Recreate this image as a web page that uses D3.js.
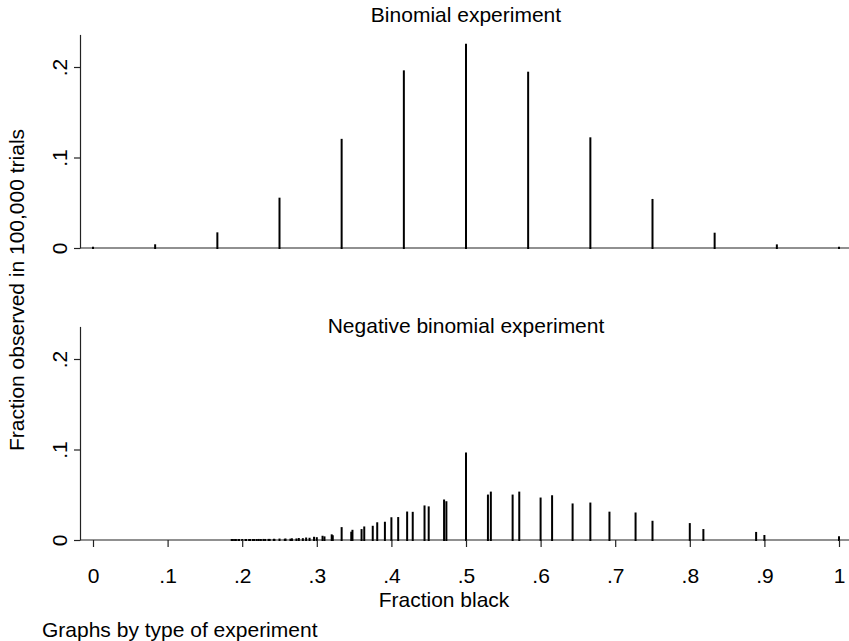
<!DOCTYPE html>
<html>
<head>
<meta charset="utf-8">
<script src="https://cdn.jsdelivr.net/npm/d3@7"></script>
<style>
  html, body { margin: 0; padding: 0; background: #fff; }
  svg { display: block; }
  text { font-family: "Liberation Sans", Arial, Helvetica, sans-serif; fill: #000; }
</style>
</head>
<body>
<svg id="chart" width="849" height="641"></svg>
<script>
// Binomial experiment: 12 draws, fraction black k/12
const binomFraction = [0, 0.0833, 0.1667, 0.25, 0.3333, 0.4167, 0.5, 0.5833, 0.6667, 0.75, 0.8333, 0.9167, 1];
const binomShare    = [0.00025, 0.0030, 0.0162, 0.0545, 0.1195, 0.1952, 0.2246, 0.1937, 0.1212, 0.0531, 0.0158, 0.0029, 0.00022];

// Negative binomial experiment: fraction black at stopping time
const negFraction = [
  0.1860, 0.1875, 0.1905, 0.1915, 0.1951, 0.1957, 0.2000, 0.2045, 0.2051, 0.2093,
  0.2105, 0.2143, 0.2162, 0.2195, 0.2222, 0.2250, 0.2286, 0.2308, 0.2353, 0.2368,
  0.2424, 0.2432, 0.2500, 0.2571, 0.2581, 0.2647, 0.2667, 0.2727, 0.2759, 0.2813,
  0.2857, 0.2903, 0.2963, 0.3000, 0.3077, 0.3103, 0.3200, 0.3214, 0.3333, 0.3462,
  0.3478, 0.3600, 0.3636, 0.3750, 0.3810, 0.3913, 0.4000, 0.4091, 0.4211, 0.4286,
  0.4444, 0.4500, 0.4706, 0.4737, 0.5000, 0.5294, 0.5333, 0.5625, 0.5714, 0.6000,
  0.6154, 0.6429, 0.6667, 0.6923, 0.7273, 0.7500, 0.8000, 0.8182, 0.8889, 0.9000,
  1.0000
];
const negShare = [
  0.00001, 0.00001, 0.00001, 0.00001, 0.00001, 0.00001, 0.00002, 0.00001, 0.00001, 0.00001,
  0.00002, 0.00001, 0.00003, 0.00002, 0.00005, 0.00003, 0.00008, 0.00004, 0.00012, 0.00007,
  0.00020, 0.00011, 0.00048, 0.00026, 0.00047, 0.00040, 0.00073, 0.00061, 0.00110, 0.00092,
  0.00165, 0.00136, 0.00245, 0.00200, 0.00358, 0.00290, 0.00516, 0.00414, 0.01313, 0.00806,
  0.01017, 0.01096, 0.01386, 0.01461, 0.01848, 0.01906, 0.02403, 0.02426, 0.03035, 0.03003,
  0.03709, 0.03604, 0.04364, 0.04173, 0.09547, 0.04910, 0.05237, 0.04910, 0.05237, 0.04582,
  0.04834, 0.03928, 0.04028, 0.03021, 0.02930, 0.02014, 0.01758, 0.01099, 0.00781, 0.00440,
  0.00293
];

const xTicks = [0, 0.1, 0.2, 0.3, 0.4, 0.5, 0.6, 0.7, 0.8, 0.9, 1];
const xTickLabels = ["0", ".1", ".2", ".3", ".4", ".5", ".6", ".7", ".8", ".9", "1"];
const yTicks = [0, 0.1, 0.2];
const yTickLabels = ["0", ".1", ".2"];

const panels = [
  { title: "Binomial experiment", fraction: binomFraction, share: binomShare, base: 248, titleY: 22, xAxis: false },
  { title: "Negative binomial experiment", fraction: negFraction, share: negShare, base: 540, titleY: 333, xAxis: true }
];

const svg = d3.select("#chart");
const axisX = 80, rightEdge = 849;
const yMax = 0.236, pxPerUnit = 905;

const x = d3.scaleLinear().domain([0, 1]).range([93, 839]);
const fontSize = 21;

panels.forEach(p => {
  const y = d3.scaleLinear().domain([0, yMax]).range([p.base, p.base - yMax * pxPerUnit]);
  const g = svg.append("g");

  // panel title
  g.append("text")
    .attr("x", x(0.5)).attr("y", p.titleY)
    .attr("text-anchor", "middle")
    .attr("font-size", fontSize)
    .text(p.title);

  // y axis
  const yAxis = d3.axisLeft(y).tickValues(yTicks).tickSize(6).tickSizeOuter(0)
    .tickFormat((d, i) => yTickLabels[i]);
  const ya = g.append("g").attr("transform", `translate(${axisX},0)`).call(yAxis);
  ya.select(".domain").attr("stroke", "#222").attr("stroke-width", 1.2);
  ya.selectAll(".tick line").attr("stroke", "#222").attr("stroke-width", 1.2);
  ya.selectAll(".tick text")
    .attr("font-size", fontSize)
    .attr("font-family", "Liberation Sans, Arial, sans-serif")
    .attr("fill", "#000")
    .attr("x", null).attr("dy", null)
    .attr("text-anchor", "middle")
    .attr("transform", "translate(-20,0) rotate(-90)")
    .attr("dy", "0.35em");

  // baseline across the plot region
  g.append("line")
    .attr("x1", axisX).attr("x2", rightEdge)
    .attr("y1", y(0)).attr("y2", y(0))
    .attr("stroke", "#222").attr("stroke-width", 1.2);

  // spikes
  g.append("g").selectAll("line")
    .data(p.fraction.map((f, i) => ({ f, v: p.share[i] })))
    .join("line")
    .attr("x1", d => x(d.f)).attr("x2", d => x(d.f))
    .attr("y1", y(0)).attr("y2", d => y(d.v))
    .attr("stroke", "#000")
    .attr("stroke-width", 2)
    .attr("stroke-linecap", "square");

  if (p.xAxis) {
    const xAxis = d3.axisBottom(x).tickValues(xTicks).tickSize(7).tickSizeOuter(0)
      .tickFormat((d, i) => xTickLabels[i]);
    const xa = g.append("g").attr("transform", `translate(0,${y(0)})`).call(xAxis);
    xa.select(".domain").remove();
    xa.selectAll(".tick line").attr("stroke", "#222").attr("stroke-width", 1.2);
    xa.selectAll(".tick text")
      .attr("font-size", fontSize)
      .attr("font-family", "Liberation Sans, Arial, sans-serif")
      .attr("fill", "#000")
      .attr("y", 43).attr("dy", "0");
  }
});

// axis titles and note
svg.append("text")
  .attr("x", 444).attr("y", 607)
  .attr("text-anchor", "middle")
  .attr("font-size", fontSize)
  .text("Fraction black");

svg.append("text")
  .attr("transform", "translate(24,290) rotate(-90)")
  .attr("text-anchor", "middle")
  .attr("font-size", fontSize)
  .text("Fraction observed in 100,000 trials");

svg.append("text")
  .attr("x", 42).attr("y", 637)
  .attr("font-size", fontSize)
  .text("Graphs by type of experiment");
</script>
</body>
</html>
